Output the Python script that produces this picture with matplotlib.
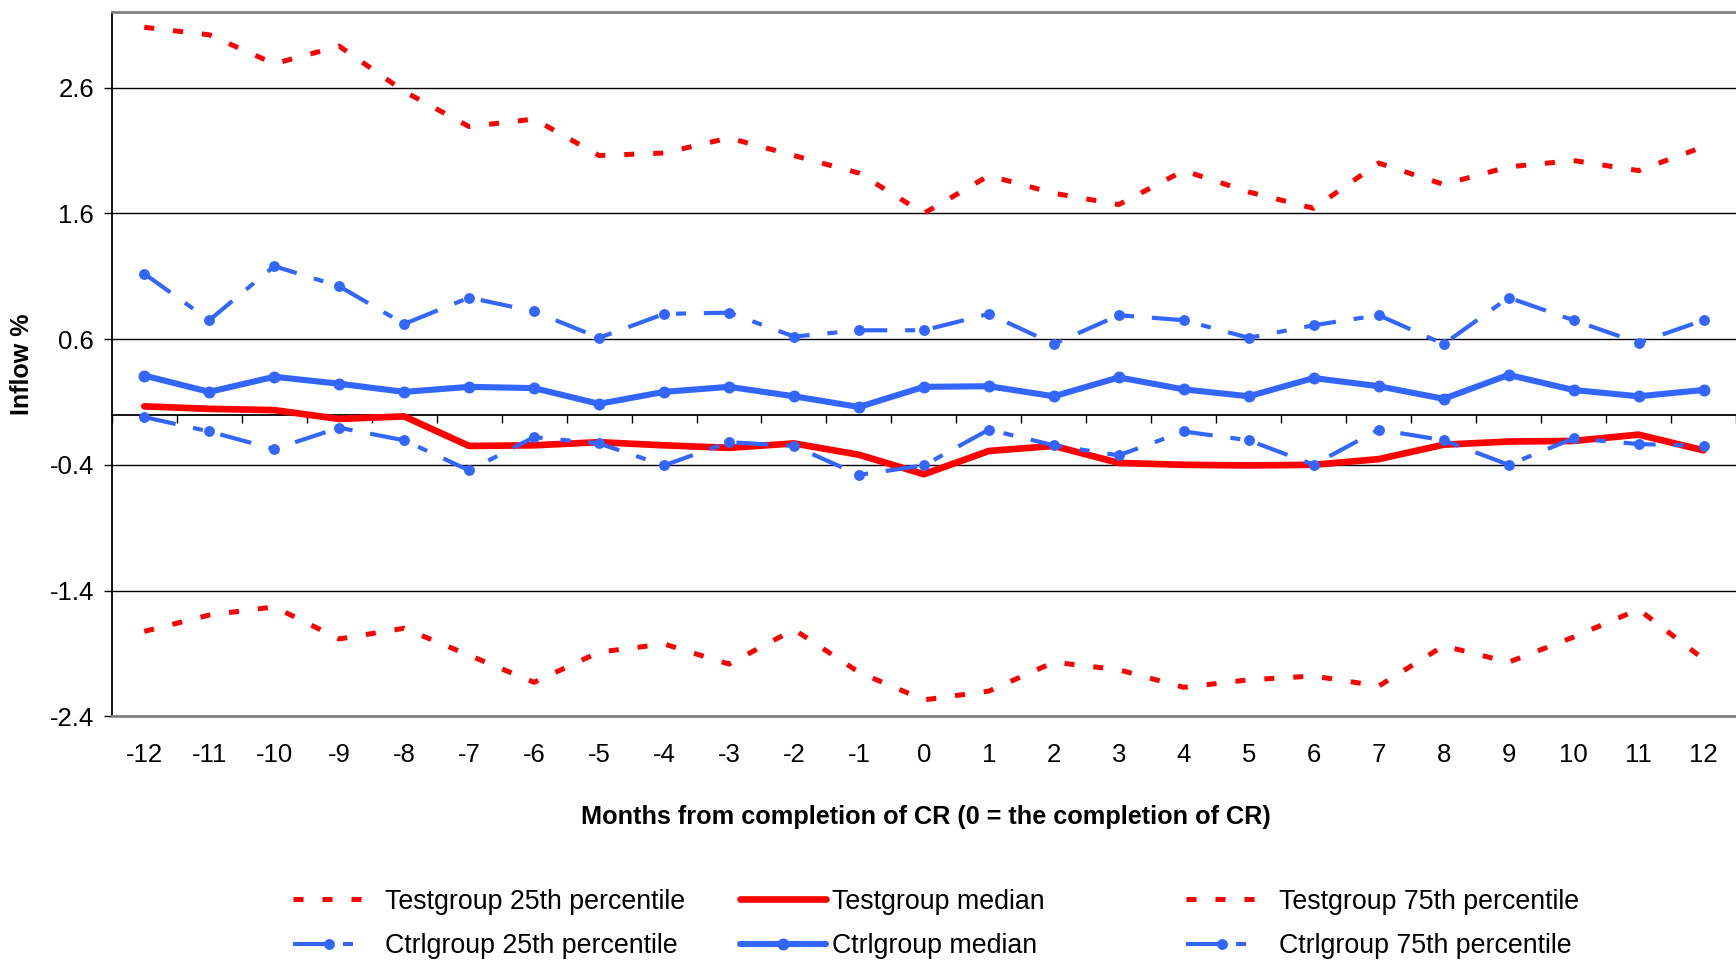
import numpy as np
import matplotlib
matplotlib.use("Agg")
import matplotlib.pyplot as plt

plt.rcParams['font.family'] = ['Liberation Sans', 'DejaVu Sans']
plt.rcParams['axes.unicode_minus'] = False

# Months relative to completion of CR
months = list(range(-12, 13))
month_labels = [str(m) for m in months]

# Inflow % by group and percentile
test_p25 = [-1.725, -1.595, -1.53, -1.785, -1.70, -1.915, -2.13, -1.89, -1.825,
            -1.985, -1.71, -2.05, -2.27, -2.20, -1.97, -2.03, -2.17, -2.11,
            -2.08, -2.16, -1.84, -1.97, -1.77, -1.55, -1.945]
test_median = [0.065, 0.045, 0.035, -0.035, -0.015, -0.25, -0.245, -0.22, -0.245,
               -0.265, -0.23, -0.32, -0.475, -0.29, -0.25, -0.385, -0.40, -0.405,
               -0.40, -0.355, -0.24, -0.215, -0.21, -0.16, -0.285]
test_p75 = [3.08, 3.02, 2.79, 2.93, 2.57, 2.29, 2.35, 2.06, 2.08, 2.20, 2.06, 1.92,
            1.60, 1.90, 1.76, 1.67, 1.94, 1.77, 1.64, 2.00, 1.83, 1.97, 2.02, 1.94, 2.13]
ctrl_p25 = [-0.02, -0.135, -0.275, -0.105, -0.205, -0.445, -0.18, -0.23, -0.405,
            -0.22, -0.25, -0.48, -0.405, -0.12, -0.245, -0.325, -0.135, -0.205,
            -0.40, -0.12, -0.205, -0.40, -0.19, -0.235, -0.25]
ctrl_median = [0.31, 0.18, 0.30, 0.245, 0.18, 0.22, 0.21, 0.085, 0.18, 0.22, 0.145,
               0.06, 0.22, 0.225, 0.145, 0.295, 0.20, 0.145, 0.29, 0.225, 0.125,
               0.315, 0.195, 0.145, 0.195]
ctrl_p75 = [1.12, 0.75, 1.18, 1.02, 0.72, 0.93, 0.82, 0.61, 0.80, 0.81, 0.62, 0.67,
            0.67, 0.80, 0.56, 0.79, 0.75, 0.61, 0.71, 0.79, 0.56, 0.93, 0.75, 0.57, 0.75]

y_ticks = [-2.4, -1.4, -0.4, 0.6, 1.6, 2.6]
y_tick_labels = ['-2.4', '-1.4', '-0.4', '0.6', '1.6', '2.6']
y_limits = (-2.4, 3.2)

RED = '#FF0000'
BLUE = '#3366FF'
FRAME_GREY = '#808080'
FS = 18.5
LEGEND_FS = 19.3

fig = plt.figure(figsize=(17.36, 9.6), dpi=100)
ax = fig.add_axes([0.0644, 0.2539, 0.9356, 0.7334])

x = np.array(months)

red_dash = (2.0, 3.8)
blue_dashdot = (7.7, 4.3, 2.4, 4.3)

l_t25, = ax.plot(x, test_p25, color=RED, lw=3.6, dashes=red_dash,
                 label='Testgroup 25th percentile')
l_tmed, = ax.plot(x, test_median, color=RED, lw=4.8, solid_capstyle='round',
                  solid_joinstyle='round', label='Testgroup median')
l_t75, = ax.plot(x, test_p75, color=RED, lw=3.6, dashes=red_dash,
                 label='Testgroup 75th percentile')
l_c25, = ax.plot(x, ctrl_p25, color=BLUE, lw=3.0, dashes=blue_dashdot,
                 marker='o', ms=6.8, mec=BLUE, mfc=BLUE,
                 label='Ctrlgroup 25th percentile')
l_cmed, = ax.plot(x, ctrl_median, color=BLUE, lw=4.4, solid_capstyle='round',
                  solid_joinstyle='round', marker='o', ms=7.6, mec=BLUE, mfc=BLUE,
                  label='Ctrlgroup median')
l_c75, = ax.plot(x, ctrl_p75, color=BLUE, lw=3.0, dashes=blue_dashdot,
                 marker='o', ms=6.8, mec=BLUE, mfc=BLUE,
                 label='Ctrlgroup 75th percentile')

ax.set_xlim(months[0] - 0.5, months[-1] + 0.5)
ax.set_ylim(*y_limits)

# y axis: black spine, outward ticks, black gridlines
ax.set_yticks(y_ticks)
ax.set_yticklabels(y_tick_labels)
ax.yaxis.grid(True, color='black', lw=1.0)
ax.set_axisbelow(True)
ax.tick_params(axis='y', direction='out', length=5.8, width=1.0, pad=7,
               labelsize=FS, colors='black')
ax.spines['left'].set_color('black')
ax.spines['left'].set_linewidth(1.3)

# x labels under the plot area
ax.set_xticks(x)
ax.set_xticklabels(month_labels)
ax.tick_params(axis='x', length=0, pad=19.4, labelsize=FS)

# plot-area frame
ax.spines['right'].set_visible(False)
for side in ('top', 'bottom'):
    ax.spines[side].set_color(FRAME_GREY)
    ax.spines[side].set_linewidth(2.0)

# category axis crossing at zero with boundary ticks
zero_frac = (0 - y_limits[0]) / (y_limits[1] - y_limits[0])
sec = ax.secondary_xaxis(zero_frac)
boundaries = np.arange(months[0] - 0.5, months[-1] + 1.0, 1.0)
sec.set_xticks(boundaries)
sec.tick_params(axis='x', direction='out', length=5.8, width=1.0,
                labelbottom=False, labeltop=False, colors='black')
for sp in sec.spines.values():
    sp.set_color('black')
    sp.set_linewidth(1.3)

ax.set_ylabel('Inflow %', fontsize=18, fontweight='bold', va='center')
ax.yaxis.set_label_coords(-0.0553, 0.5)
ax.set_xlabel('Months from completion of CR (0 = the completion of CR)',
              fontsize=18.2, fontweight='bold', va='center')
ax.xaxis.set_label_coords(0.501, -0.143)

legend_cols = [
    ([l_t25, l_c25], 0.1688, 2.7, 0.72),
    ([l_tmed, l_cmed], 0.4263, 3.2, 0.24),
    ([l_t75, l_c75], 0.6832, 2.7, 0.75),
]
for handles, x0, hlen, tpad in legend_cols:
    fig.legend(handles=handles, loc='center left', bbox_to_anchor=(x0, 0.0375),
               frameon=False, fontsize=LEGEND_FS, handlelength=hlen,
               handletextpad=tpad, borderpad=0, borderaxespad=0,
               labelspacing=0.70, numpoints=1)

fig.savefig('out.png', dpi=100)
